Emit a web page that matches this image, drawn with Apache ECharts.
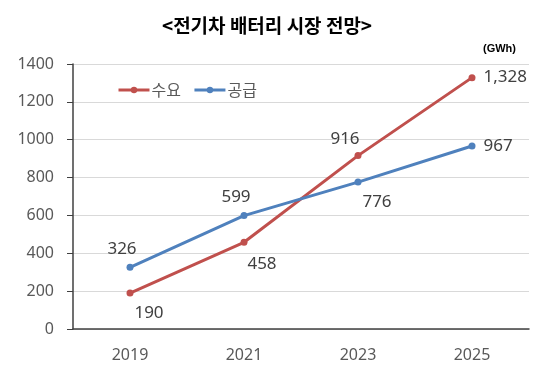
<!DOCTYPE html>
<html><head><meta charset="utf-8">
<script src="https://cdn.jsdelivr.net/npm/echarts@6/dist/echarts.min.js"></script>
<style>html,body{margin:0;padding:0;background:#fff}#c{width:551px;height:385px}</style>
</head><body><div id="c"></div>
<script>
const categories = ['2019', '2021', '2023', '2025'];
const demand = [190, 458, 916, 1328];
const supply = [326, 599, 776, 967];
const yTicks = [0, 200, 400, 600, 800, 1000, 1200, 1400];
const demandLabelOffsets = [[19, 20], [18, 22], [-13, -16], [0, 0]];
const supplyLabelOffsets = [[-8, -18], [-8, -18], [19, 20], [0, 0]];
const demandLabelPos = ['inside', 'inside', 'inside', 'right'];
const supplyLabelPos = ['inside', 'inside', 'inside', 'right'];

const font = '"Noto Sans CJK KR", "Noto Sans", sans-serif';
function mk(vals, offs, pos) {
  return vals.map((v, i) => ({
    value: v,
    label: {
      position: pos[i],
      offset: offs[i],
      formatter: (p) => p.value.toLocaleString('en-US')
    }
  }));
}
const chart = echarts.init(document.getElementById('c'));
chart.setOption({
  animation: false,
  title: [{
    text: '<전기차 배터리 시장 전망>',
    left: 262, top: 11, textAlign: 'center',
    textStyle: { fontSize: 19, fontWeight: 'bold', color: '#000', fontFamily: font }
  }, {
    text: '(GWh)',
    left: 511, top: 38, textAlign: 'right',
    textStyle: { fontSize: 11, fontWeight: 'bold', color: '#000', fontFamily: 'Liberation Sans, Arial, sans-serif' }
  }],
  legend: {
    left: 112, top: 77,
    itemWidth: 31, itemHeight: 8, itemGap: 12,
    lineStyle: { width: 3 },
    textStyle: { fontSize: 16, color: '#595959', fontFamily: font, padding: [0, 0, 0, -3] },
    data: ['수요', '공급']
  },
  grid: { left: 73, right: 22, top: 64, bottom: 56 },
  xAxis: {
    type: 'category', data: categories, boundaryGap: true,
    axisLine: { lineStyle: { color: '#404040', width: 1.5 } },
    axisTick: { show: false },
    axisLabel: { fontSize: 16, color: '#595959', margin: 18, fontFamily: 'Noto Sans, sans-serif' }
  },
  yAxis: {
    type: 'value', min: yTicks[0], max: yTicks[yTicks.length - 1], interval: yTicks[1] - yTicks[0],
    axisLine: { show: true, lineStyle: { color: '#404040', width: 1.5 } },
    axisTick: { show: true, length: 6, lineStyle: { color: '#404040' } },
    axisLabel: { fontSize: 16, color: '#595959', margin: 19, fontFamily: 'Noto Sans, sans-serif', formatter: (v) => String(v) },
    splitLine: { lineStyle: { color: '#d9d9d9' } }
  },
  series: [{
    name: '수요', type: 'line', data: mk(demand, demandLabelOffsets, demandLabelPos),
    color: '#C0504D', symbol: 'circle', symbolSize: 7,
    lineStyle: { width: 3 },
    label: { show: true, fontSize: 17, color: '#404040', fontFamily: 'Noto Sans, sans-serif', distance: 8 }
  }, {
    name: '공급', type: 'line', data: mk(supply, supplyLabelOffsets, supplyLabelPos),
    color: '#4F81BD', symbol: 'circle', symbolSize: 7,
    lineStyle: { width: 3 },
    label: { show: true, fontSize: 17, color: '#404040', fontFamily: 'Noto Sans, sans-serif', distance: 8 }
  }]
});
</script></body></html>
